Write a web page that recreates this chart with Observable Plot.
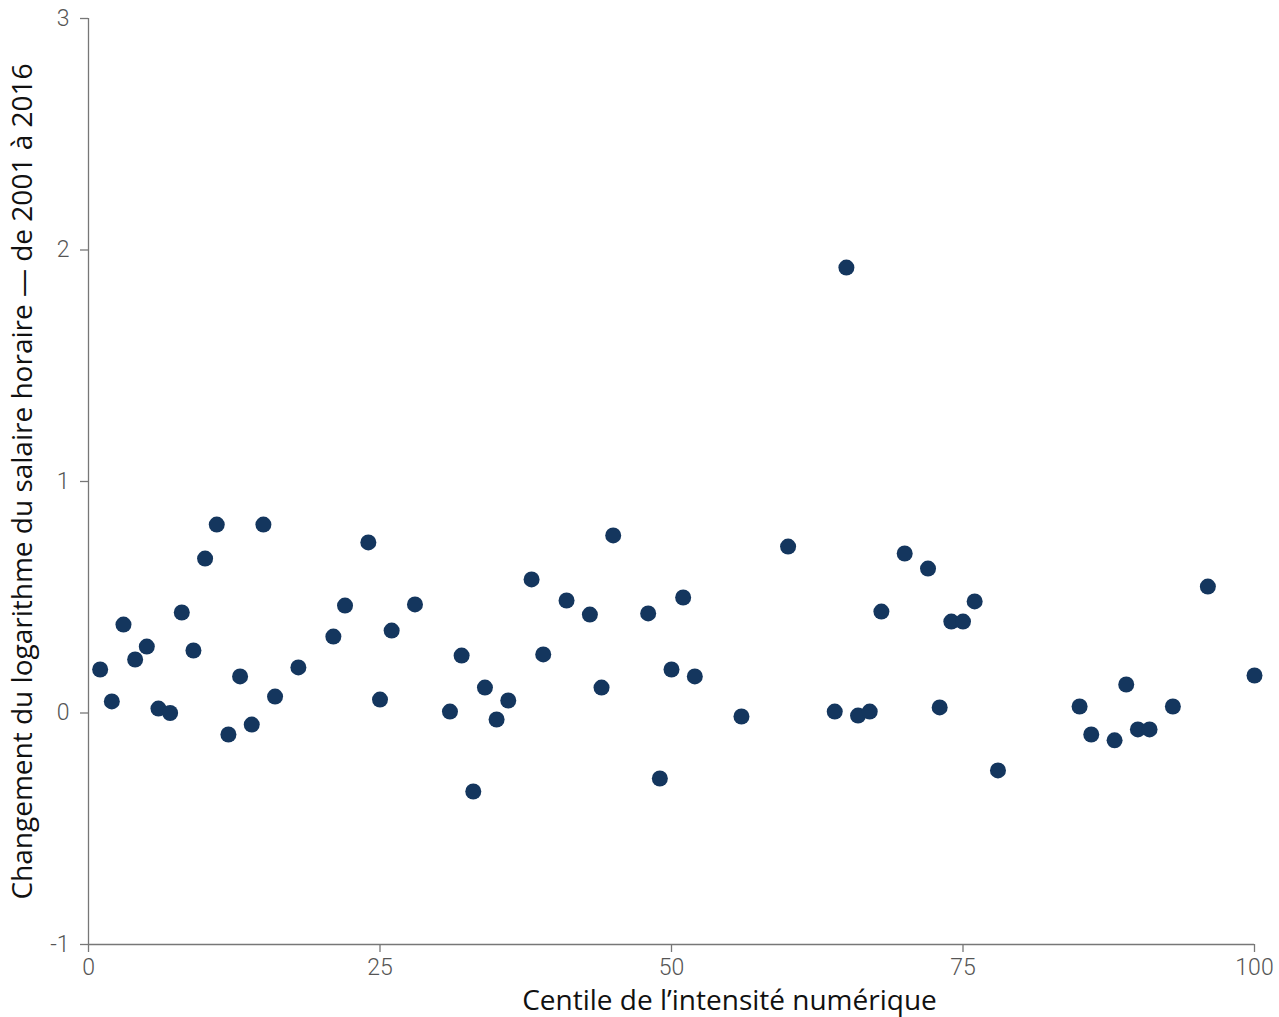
<!DOCTYPE html>
<html>
<head>
<meta charset="utf-8">
<script src="https://cdn.jsdelivr.net/npm/d3@7"></script>
<script src="https://cdn.jsdelivr.net/npm/@observablehq/plot@0.6"></script>
<style>
  html, body { margin: 0; padding: 0; background: #fff; }
  #chart svg { display: block; }
</style>
</head>
<body>
<div id="chart"></div>
<script>
const centile = [1,2,3,4,5,6,7,8,9,10,11,12,13,14,15,16,18,21,22,24,25,26,28,31,32,33,34,35,36,38,39,41,43,44,45,48,49,50,51,52,56,60,64,65,66,67,68,70,72,73,74,75,76,78,85,86,88,89,90,91,93,96,100];
const logWageChange = [0.188,0.05,0.382,0.231,0.287,0.019,0.0,0.434,0.27,0.667,0.814,-0.093,0.158,-0.05,0.814,0.071,0.197,0.33,0.464,0.737,0.058,0.356,0.469,0.006,0.248,-0.339,0.11,-0.028,0.054,0.577,0.253,0.486,0.425,0.11,0.767,0.43,-0.283,0.188,0.499,0.158,-0.015,0.719,0.006,1.924,-0.011,0.006,0.438,0.689,0.624,0.024,0.395,0.395,0.482,-0.248,0.028,-0.093,-0.118,0.123,-0.071,-0.071,0.028,0.546,0.162];
const xTicks = [0, 25, 50, 75, 100];
const yTicks = [-1, 0, 1, 2, 3];
const xLabel = "Centile de l’intensité numérique";
const yLabel = "Changement du logarithme du salaire horaire — de 2001 à 2016";

const data = centile.map((c, i) => ({centile: c, value: logWageChange[i]}));

const labelFont = "'Open Sans', 'Noto Sans', sans-serif";
const tickFont = "Roboto, 'Open Sans', sans-serif";
const axisColor = "#777";

const chart = Plot.plot({
  width: 1279,
  height: 1017,
  marginLeft: 88,
  marginRight: 25,
  marginTop: 18,
  marginBottom: 73,
  style: {background: "#fff", overflow: "visible"},
  x: {domain: [0, 100]},
  y: {domain: [-1, 3]},
  marks: [
    Plot.ruleX([0], {stroke: axisColor, strokeWidth: 1.3}),
    Plot.ruleY([-1], {stroke: axisColor, strokeWidth: 1.3}),
    Plot.axisX({
      ticks: xTicks, tickSize: 8, tickPadding: 6, label: null,
      tickFormat: d => String(d),
      stroke: axisColor, strokeWidth: 1.3,
      fontSize: 23, fontFamily: tickFont, fontWeight: 300, fill: "#555"
    }),
    Plot.axisY({
      ticks: yTicks, tickSize: 8, tickPadding: 11, label: null,
      tickFormat: d => String(d),
      stroke: axisColor, strokeWidth: 1.3,
      fontSize: 23, fontFamily: tickFont, fontWeight: 300, fill: "#555"
    }),
    Plot.dot(data, {x: "centile", y: "value", r: 8, fill: "#14365e", stroke: "none"}),
    Plot.text([xLabel], {
      text: d => d, frameAnchor: "bottom", lineAnchor: "middle", textAnchor: "middle",
      dy: 57, dx: 58,
      fontSize: 28, fontFamily: labelFont, fill: "#111"
    }),
    Plot.text([yLabel], {
      text: d => d, frameAnchor: "left", lineAnchor: "middle", textAnchor: "middle",
      dx: -65, rotate: -90,
      fontSize: 28, fontFamily: labelFont, fill: "#111"
    })
  ]
});
document.getElementById("chart").appendChild(chart);
</script>
</body>
</html>
